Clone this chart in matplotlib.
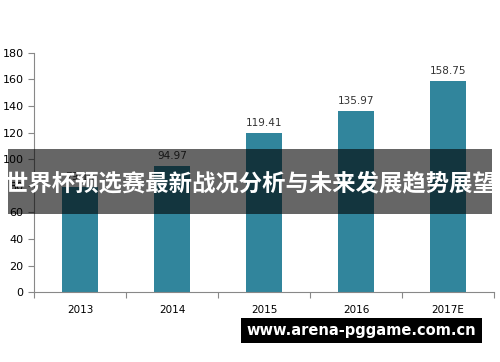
import matplotlib.pyplot as plt
from matplotlib.patches import Rectangle

years = ["2013", "2014", "2015", "2016", "2017E"]
values = [79.14, 94.97, 119.41, 135.97, 158.75]
value_labels = ["79.14", "94.97", "119.41", "135.97", "158.75"]
y_ticks = [0, 20, 40, 60, 80, 100, 120, 140, 160, 180]

banner_text = "世界杯预选赛最新战况分析与未来发展趋势展望"
site_text = "www.arena-pggame.com.cn"

plt.rcParams['font.family'] = ['Noto Sans CJK SC', 'DejaVu Sans']

fig = plt.figure(figsize=(5, 3.62), dpi=100)
ax = fig.add_axes([0.068, 0.193, 0.92, 0.661])

x = list(range(len(years)))
ax.bar(x, values, width=0.4, color="#31859C")
for xi, v, lab in zip(x, values, value_labels):
    ax.text(xi, v + 4, lab, ha="center", va="bottom", fontsize=7.5,
            color="#333333", family="DejaVu Sans")

ax.set_xlim(-0.5, len(years) - 0.5)
ax.set_ylim(0, 180)
ax.set_yticks(y_ticks)
ax.set_yticklabels([str(t) for t in y_ticks], fontsize=8, family="DejaVu Sans")
ax.set_xticks([i - 0.5 for i in range(len(years) + 1)])
ax.set_xticklabels([])
ax.set_xticks(x, minor=True)
ax.set_xticklabels(years, minor=True, fontsize=7.5, family="DejaVu Sans")
ax.tick_params(axis="x", which="minor", length=0, pad=9)
ax.tick_params(axis="x", which="major", length=4, color="#888888")
ax.tick_params(axis="y", length=4, color="#888888")
for s in ["top", "right"]:
    ax.spines[s].set_visible(False)
for s in ["left", "bottom"]:
    ax.spines[s].set_color("#888888")

# dark banner across the middle
fig.patches.append(Rectangle((8 / 500, 1 - 214 / 362), 484 / 500, 65 / 362,
                             transform=fig.transFigure, facecolor="black",
                             linewidth=0, alpha=0.6, zorder=10))
fig.text(0.5, 1 - 183 / 362, banner_text, ha="center", va="center",
         fontsize=16.8, fontweight="bold", color="white", zorder=11)

# site box bottom right
fig.patches.append(Rectangle((241 / 500, 1 - 343 / 362), 241 / 500, 25 / 362,
                             transform=fig.transFigure, facecolor="black",
                             linewidth=0, zorder=10))
fig.text(361.5 / 500, 1 - 330.5 / 362, site_text, ha="center", va="center",
         fontsize=10.5, fontweight="bold", color="white", zorder=11,
         family="DejaVu Sans")

fig.savefig("out.png", dpi=100)
